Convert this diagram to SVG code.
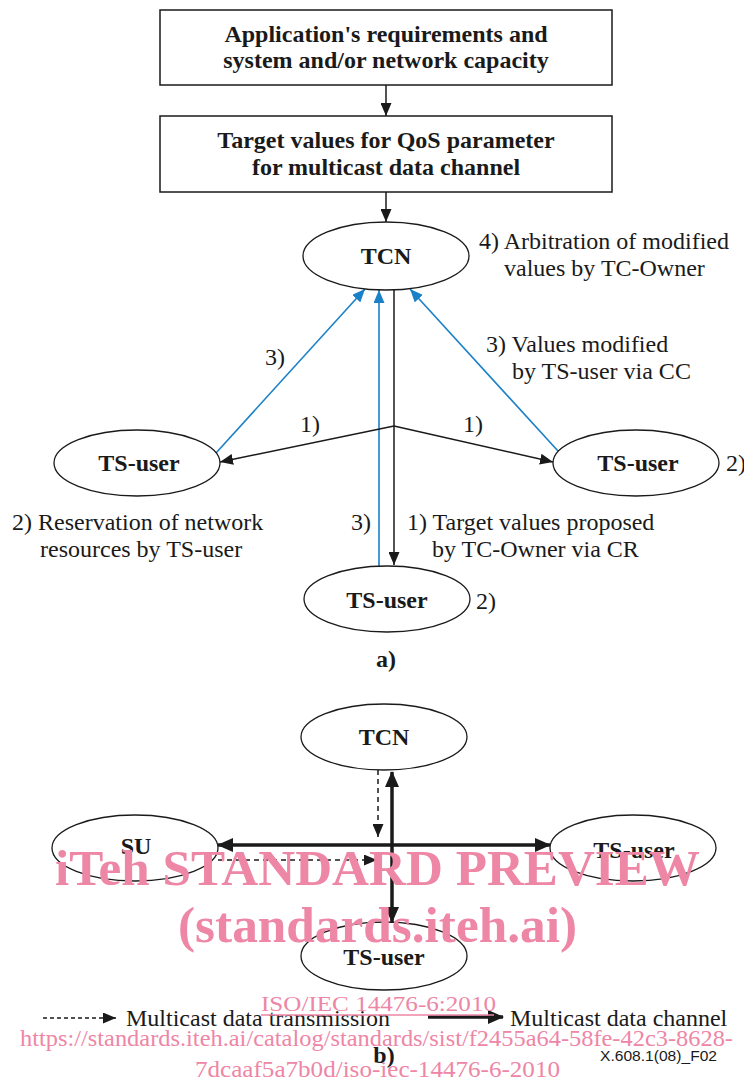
<svg xmlns="http://www.w3.org/2000/svg" width="744" height="1084" viewBox="0 0 744 1084">
<defs>
<style>
.box{fill:#fff;stroke:#1a1a1a;stroke-width:1.5}
.node{fill:#fff;stroke:#1a1a1a;stroke-width:1.3}
.bt{font-family:"Liberation Serif","Times New Roman",serif;font-weight:bold;font-size:24px;fill:#1a1a1a;text-anchor:middle}
.lt{font-family:"Liberation Serif","Times New Roman",serif;font-size:24px;fill:#1a1a1a}
.blk{stroke:#1a1a1a;stroke-width:1.5;fill:none}
.blu{stroke:#1a80c8;stroke-width:1.6;fill:none}
.thk{stroke:#1a1a1a;stroke-width:3.5;fill:none}
.dsh{stroke:#1a1a1a;stroke-width:1.5;fill:none;stroke-dasharray:5 4}
.wm{font-family:"Liberation Serif","Times New Roman",serif;fill:#ee86a6}
</style>
<marker id="ab" markerUnits="userSpaceOnUse" markerWidth="13" markerHeight="11" refX="13" refY="5.5" orient="auto-start-reverse"><path d="M0,0 L13,5.5 L0,11 z" fill="#1a1a1a"/></marker>
<marker id="au" markerUnits="userSpaceOnUse" markerWidth="13" markerHeight="11" refX="13" refY="5.5" orient="auto-start-reverse"><path d="M0,0 L13,5.5 L0,11 z" fill="#1a80c8"/></marker>
<marker id="at" markerUnits="userSpaceOnUse" markerWidth="16" markerHeight="14" refX="15" refY="7" orient="auto-start-reverse"><path d="M0,0 L16,7 L0,14 z" fill="#1a1a1a"/></marker>
</defs>

<g id="connectors">
<line class="blk" x1="386" y1="85" x2="386" y2="116" marker-end="url(#ab)"/>
<line class="blk" x1="386" y1="192" x2="386" y2="222" marker-end="url(#ab)"/>
<line class="blu" x1="216" y1="453" x2="365" y2="289" marker-end="url(#au)"/>
<line class="blu" x1="379" y1="566" x2="379" y2="290" marker-end="url(#au)"/>
<line class="blu" x1="558" y1="451" x2="410" y2="289" marker-end="url(#au)"/>
<line class="blk" x1="394" y1="290" x2="394" y2="565" marker-end="url(#ab)"/>
<line class="blk" x1="394" y1="426" x2="220" y2="462" marker-end="url(#ab)"/>
<line class="blk" x1="394" y1="426" x2="553" y2="462" marker-end="url(#ab)"/>
<line class="dsh" x1="378" y1="770" x2="378" y2="837" marker-end="url(#ab)"/>
<line class="thk" x1="392" y1="772" x2="392" y2="922" marker-start="url(#at)" marker-end="url(#at)"/>
<line class="thk" x1="218" y1="845" x2="550" y2="845" marker-start="url(#at)" marker-end="url(#at)"/>
<line class="dsh" x1="218" y1="860" x2="377" y2="860" marker-end="url(#ab)"/>
</g>

<g id="box-requirements">
<rect class="box" x="160" y="10" width="452" height="75"/>
<text class="bt" x="386" y="42">Application's requirements and</text>
<text class="bt" x="386" y="68">system and/or network capacity</text>
</g>
<g id="box-target">
<rect class="box" x="160" y="116" width="452" height="76"/>
<text class="bt" x="386" y="148">Target values for QoS parameter</text>
<text class="bt" x="386" y="175">for multicast data channel</text>
</g>

<g id="a-tcn">
<ellipse class="node" cx="386" cy="256" rx="83" ry="34"/>
<text class="bt" x="386" y="264">TCN</text>
</g>
<g id="a-tsuser-left">
<ellipse class="node" cx="137" cy="463" rx="83" ry="33"/>
<text class="bt" x="139" y="471">TS-user</text>
</g>
<g id="a-tsuser-right">
<ellipse class="node" cx="636" cy="463" rx="83" ry="33"/>
<text class="bt" x="638" y="471">TS-user</text>
</g>
<g id="a-tsuser-bottom">
<ellipse class="node" cx="387" cy="599" rx="83" ry="33"/>
<text class="bt" x="387" y="608">TS-user</text>
</g>

<g id="a-labels">
<text class="lt" x="479" y="249">4) Arbitration of modified</text>
<text class="lt" x="504" y="276">values by TC-Owner</text>
<text class="lt" x="265" y="365">3)</text>
<text class="lt" x="486" y="352">3) Values modified</text>
<text class="lt" x="512" y="379">by TS-user via CC</text>
<text class="lt" x="300" y="432">1)</text>
<text class="lt" x="463" y="432">1)</text>
<text class="lt" x="726" y="471">2)</text>
<text class="lt" x="12" y="530">2) Reservation of network</text>
<text class="lt" x="40" y="557">resources by TS-user</text>
<text class="lt" x="351" y="530">3)</text>
<text class="lt" x="407" y="530">1) Target values proposed</text>
<text class="lt" x="432" y="557">by TC-Owner via CR</text>
<text class="lt" x="476" y="609">2)</text>
<text class="bt" x="386" y="667">a)</text>
</g>

<g id="b-tcn">
<ellipse class="node" cx="384" cy="737" rx="83" ry="33"/>
<text class="bt" x="384" y="745">TCN</text>
</g>
<g id="b-su">
<ellipse class="node" cx="135" cy="848" rx="83" ry="33"/>
<text class="bt" x="136" y="854">SU</text>
</g>
<g id="b-tsuser-right">
<ellipse class="node" cx="633" cy="848" rx="83" ry="33"/>
<text class="bt" x="634" y="858">TS-user</text>
</g>
<g id="b-tsuser-bottom">
<ellipse class="node" cx="384" cy="956" rx="83" ry="34"/>
<text class="bt" x="384" y="965">TS-user</text>
</g>

<g id="legend">
<line class="dsh" x1="43" y1="1018" x2="116" y2="1018" marker-end="url(#ab)" style="stroke-dasharray:4 3"/>
<text class="lt" x="126" y="1026">Multicast data transmission</text>
<line class="thk" x1="428" y1="1017" x2="503" y2="1017" marker-end="url(#at)"/>
<text class="lt" x="510" y="1026">Multicast data channel</text>
<text class="bt" x="384" y="1063">b)</text>
<text x="600" y="1061" font-family="'Liberation Sans',Arial,sans-serif" font-size="14" fill="#1a1a1a" textLength="117" lengthAdjust="spacingAndGlyphs">X.608.1(08)_F02</text>
</g>

<g id="watermark">
<text class="wm" x="55" y="885" font-size="50" font-weight="bold" textLength="645" lengthAdjust="spacingAndGlyphs">iTeh STANDARD PREVIEW</text>
<text class="wm" x="178" y="942" font-size="50" font-weight="bold" textLength="399" lengthAdjust="spacingAndGlyphs">(standards.iteh.ai)</text>
<text class="wm" x="261" y="1011" font-size="22" textLength="235" lengthAdjust="spacingAndGlyphs">ISO/IEC 14476-6:2010</text>
<line x1="261" y1="1015" x2="494" y2="1015" stroke="#ee86a6" stroke-width="1.5"/>
<text class="wm" x="20" y="1046" font-size="24" textLength="713" lengthAdjust="spacingAndGlyphs">https://standards.iteh.ai/catalog/standards/sist/f2455a64-58fe-42c3-8628-</text>
<text class="wm" x="195" y="1077" font-size="24" textLength="365" lengthAdjust="spacingAndGlyphs">7dcaaf5a7b0d/iso-iec-14476-6-2010</text>
</g>
</svg>
